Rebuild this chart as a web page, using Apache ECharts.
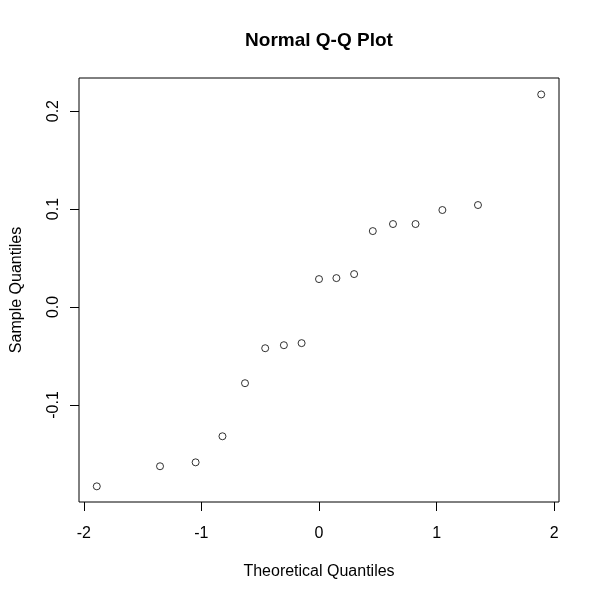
<!DOCTYPE html>
<html>
<head>
<meta charset="utf-8">
<script src="https://cdn.jsdelivr.net/npm/echarts@6/dist/echarts.min.js"></script>
<style>html,body{margin:0;padding:0;background:#fff}#c{width:600px;height:600px}</style>
</head>
<body>
<div id="c"></div>
<script>
// Theoretical quantiles (qnorm of ppoints(17))
var theoretical = [-1.8895, -1.3517, -1.0491, -0.8208, -0.6291, -0.4575, -0.2986, -0.1479, 0,
                   0.1479, 0.2986, 0.4575, 0.6291, 0.8208, 1.0491, 1.3517, 1.8895];
// Sample quantiles (sorted sample values)
var sample = [-0.1831, -0.1626, -0.1586, -0.1320, -0.0778, -0.0421, -0.0390, -0.0369, 0.0285,
              0.0295, 0.0336, 0.0775, 0.0847, 0.0847, 0.0990, 0.1041, 0.2170];
var xTicks = [-2, -1, 0, 1, 2];
var yTicks = [-0.1, 0.0, 0.1, 0.2];

var pts = theoretical.map(function (x, i) { return [x, sample[i]]; });
var font = 'Liberation Sans, Arial, sans-serif';

var chart = echarts.init(document.getElementById('c'), null, {renderer: 'canvas'});
chart.setOption({
  animation: false,
  backgroundColor: '#ffffff',
  title: {
    text: 'Normal Q-Q Plot',
    left: 314,
    textAlign: 'center',
    top: 26,
    textStyle: {fontFamily: font, fontSize: 19, fontWeight: 'bold', color: '#000'}
  },
  grid: {
    left: 79, right: 41, top: 78, bottom: 98,
    containLabel: false,
    outerBoundsMode: 'none',
    show: true, borderColor: '#000', borderWidth: 1, backgroundColor: 'transparent'
  },
  xAxis: {
    type: 'value',
    min: -2.0407, max: 2.0407,
    name: 'Theoretical Quantiles',
    nameLocation: 'middle',
    nameGap: 62,
    nameTextStyle: {fontFamily: font, fontSize: 16, color: '#000'},
    axisLine: {show: false, onZero: false},
    splitLine: {show: false},
    axisTick: {show: true, inside: false, length: 9, customValues: xTicks, lineStyle: {color: '#000', width: 1}},
    axisLabel: {
      customValues: xTicks, margin: 24, fontFamily: font, fontSize: 16, color: '#000',
      formatter: function (v) { return String(v); }
    }
  },
  yAxis: {
    type: 'value',
    min: -0.1991, max: 0.2338,
    name: 'Sample Quantiles',
    nameLocation: 'middle',
    nameGap: 54,
    nameRotate: 90,
    nameTextStyle: {fontFamily: font, fontSize: 16, color: '#000'},
    axisLine: {show: false, onZero: false},
    splitLine: {show: false},
    axisTick: {show: true, inside: false, length: 9, customValues: yTicks, lineStyle: {color: '#000', width: 1}},
    axisLabel: {
      customValues: yTicks, rotate: 90, margin: 17, fontFamily: font, fontSize: 16, color: '#000',
      formatter: function (v) { return v.toFixed(1); }
    }
  },
  series: [{
    type: 'scatter',
    data: pts,
    symbol: 'circle',
    symbolSize: 7,
    itemStyle: {color: 'rgba(0,0,0,0)', borderColor: '#000', borderWidth: 1},
    emphasis: {disabled: true}
  }]
});
</script>
</body>
</html>
